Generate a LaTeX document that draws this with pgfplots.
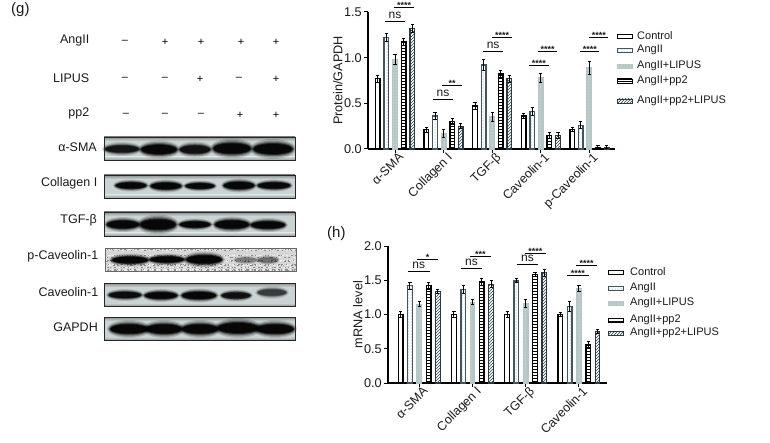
\documentclass[border=0pt]{standalone}
\usepackage{fontspec}
\setmainfont{Liberation Sans}
\usepackage{pgfplots}
\pgfplotsset{compat=1.18}
\usetikzlibrary{patterns}
\definecolor{txt}{HTML}{1A1A1A}
\definecolor{slate}{HTML}{3F5560}
\definecolor{pale}{HTML}{B4C6C6}
\definecolor{blotbg}{HTML}{CBD4D4}
\definecolor{dkpat}{HTML}{2A3A42}
\newcommand{\fs}[1]{\fontsize{#1}{#1}\selectfont}
\newcommand{\py}[1]{\fpeval{442-#1}}
\newcommand{\imod}[2]{\the\numexpr (#1)-(((#1)-((#2)-1)/2)/(#2))*(#2)\relax}
\tikzset{
  s1/.style={draw=black, fill=white, line width=1.3pt},
  s2/.style={draw=slate, line width=1.3pt, pattern=dots, pattern color=slate!80},
  s3/.style={draw=pale, fill=pale, line width=1.3pt, postaction={pattern=dots, pattern color=white}},
  s4/.style={draw=black, line width=1.3pt, pattern=horizontal lines, pattern color=black},
  s5/.style={draw=dkpat, line width=1.3pt, pattern=north east lines, pattern color=dkpat},
}
\pgfplotsset{
  chartstyle/.style={
    scale only axis, axis lines*=left, axis line style={-, line width=1.1pt, black},
    tick style={line width=1pt, black}, tick align=outside, major tick length=4pt,
    ymin=0, xtick=data, x tick label style={rotate=45, anchor=north east, inner sep=1pt, font=\fs{12.5}, text=txt, xshift=4pt},
    y tick label style={font=\fs{12.7}, text=txt, inner sep=2pt},
    label style={font=\fs{12.7}, text=txt},
    /pgf/number format/assume math mode=true,
    /pgf/number format/fixed, /pgf/number format/fixed zerofill, /pgf/number format/precision=1,
    clip=false, ybar, ymajorgrids=false,
    error bars/y dir=both, error bars/y explicit,
    error bars/error mark options={rotate=90, mark size=1.6pt, line width=1pt},
    error bars/error bar style={line width=1pt, black},
  },
}
% image-pixel helpers
\newcommand{\sig}[5]{% x1 x2 y text fontsize
  \draw[line width=1pt, black] (#1pt,\py{#3}pt) -- (#2pt,\py{#3}pt);
  \node[anchor=base, inner sep=0pt, text=txt, font=\fs{#5}] at ({(#1+#2)/2*1pt},\fpeval{442-#3+3}pt) {#4};}
\newcommand{\sigs}[4]{% x1 x2 y stars
  \draw[line width=1pt, black] (#1pt,\py{#3}pt) -- (#2pt,\py{#3}pt);
  \node[anchor=base, inner sep=0pt, text=txt, font=\fs{9}\bfseries] at ({(#1+#2)/2*1pt},\fpeval{442-#3-1}pt) {#4};}
\newcommand{\leg}[5]{% x y style text textx
  \path[#3, line width=0.9pt] (#1pt,\fpeval{442-#2-2}pt) rectangle (\fpeval{#1+15}pt,\fpeval{442-#2+2}pt);
  \node[anchor=west, inner sep=0pt, text=txt, font=\fs{11}] at (#5pt,\py{#2}pt) {#4};}
\newcommand{\rowlab}[3]{\node[anchor=east, inner sep=0pt, text=txt, font=\fs{12.5}] at (#1pt,\py{#2}pt) {#3};}
\newcommand{\sym}[3]{\node[inner sep=0pt, text=black, font=\fs{11}] at (#1pt,\py{#2}pt) {#3};}
\newcommand{\blot}[2]{% ytop ybottom
  \fill[blotbg] (104pt,\py{#1}pt) rectangle (295pt,\py{#2}pt);
  \shade[top color=gray!85!blotbg, bottom color=blotbg] (104pt,\py{#1}pt) rectangle (295pt,\fpeval{442-#1-4}pt);
  \shade[top color=blotbg, bottom color=gray!70!blotbg] (104pt,\fpeval{442-#2+3}pt) rectangle (295pt,\py{#2}pt);
}
\newcommand{\blotframe}[2]{\draw[line width=0.8pt, black!85] (104pt,\py{#1}pt) rectangle (295pt,\py{#2}pt);}
% x y a b strength: soft-edged band built from nested translucent ellipses
\newcommand{\band}[5]{%
  \foreach \fx/\fy/\op in {1/1/.15,.96/.85/.2,.92/.72/.35,.88/.6/.6,.84/.5/.8}{%
    \fill[black, fill opacity=\fpeval{\op*#5}] (#1pt,\py{#2}pt) ellipse ({\fx*#3*1pt} and {\fy*#4*1pt});
  }}
\begin{document}
\begin{tikzpicture}[x=1pt,y=1pt]
\path[use as bounding box] (0pt,0pt) rectangle (770pt,442pt);

% ---------- top chart ----------
\begin{axis}[chartstyle, at={(368pt,293pt)}, anchor=south west, width=247pt, height=137pt,
  xmin=-0.556, xmax=4.527, ymax=1.5, ytick={0,0.5,1,1.5}, bar width=4.6pt,
  xticklabels={α-SMA,Collagen I,TGF-β,Caveolin-1,p-Caveolin-1},
  ylabel={Protein/GAPDH}, ylabel style={yshift=-4pt}]
\addplot+[s1, bar shift=-17.2pt, forget plot] coordinates {(0,0.77)+-(0,0.04) (1,0.21)+-(0,0.03) (2,0.47)+-(0,0.04) (3,0.36)+-(0,0.03) (4,0.21)+-(0,0.02)};
\addplot+[s2, bar shift=-8.6pt, forget plot] coordinates {(0,1.22)+-(0,0.04) (1,0.36)+-(0,0.04) (2,0.92)+-(0,0.06) (3,0.41)+-(0,0.04) (4,0.26)+-(0,0.04)};
\addplot+[s3, bar shift=0pt, forget plot] coordinates {(0,0.98)+-(0,0.05) (1,0.17)+-(0,0.04) (2,0.35)+-(0,0.05) (3,0.78)+-(0,0.05) (4,0.89)+-(0,0.07)};
\addplot+[s4, bar shift=8.6pt, forget plot] coordinates {(0,1.17)+-(0,0.04) (1,0.30)+-(0,0.03) (2,0.82)+-(0,0.04) (3,0.15)+-(0,0.03) (4,0.02)+-(0,0.02)};
\addplot+[s5, bar shift=17.2pt, forget plot] coordinates {(0,1.32)+-(0,0.04) (1,0.25)+-(0,0.03) (2,0.77)+-(0,0.04) (3,0.15)+-(0,0.03) (4,0.02)+-(0,0.02)};
\end{axis}

% ---------- bottom chart ----------
\begin{axis}[chartstyle, at={(388pt,59pt)}, anchor=south west, width=219pt, height=137pt,
  xmin=-0.588, xmax=3.528, ymax=2, ytick={0,0.5,1,1.5,2}, bar width=4.6pt,
  xticklabels={α-SMA,Collagen I,TGF-β,Caveolin-1},
  ylabel={mRNA level}, ylabel style={yshift=-4pt}]
\addplot+[s1, bar shift=-18.6pt, forget plot] coordinates {(0,1.00)+-(0,0.05) (1,1.00)+-(0,0.04) (2,1.00)+-(0,0.04) (3,1.00)+-(0,0.03)};
\addplot+[s2, bar shift=-9.3pt, forget plot] coordinates {(0,1.42)+-(0,0.05) (1,1.37)+-(0,0.06) (2,1.49)+-(0,0.03) (3,1.12)+-(0,0.07)};
\addplot+[s3, bar shift=0pt, forget plot] coordinates {(0,1.15)+-(0,0.04) (1,1.18)+-(0,0.04) (2,1.16)+-(0,0.06) (3,1.38)+-(0,0.04)};
\addplot+[s4, bar shift=9.3pt, forget plot] coordinates {(0,1.42)+-(0,0.05) (1,1.48)+-(0,0.05) (2,1.58)+-(0,0.03) (3,0.56)+-(0,0.04)};
\addplot+[s5, bar shift=18.6pt, forget plot] coordinates {(0,1.34)+-(0,0.03) (1,1.44)+-(0,0.05) (2,1.61)+-(0,0.05) (3,0.75)+-(0,0.03)};
\end{axis}

% significance
\sig{385}{405}{21.7}{ns}{12}
\sigs{394}{414}{7.3}{****}
\sig{433.3}{452.7}{99.7}{ns}{12}
\sigs{442.3}{461.7}{85.3}{**}
\sig{483.3}{503}{51.7}{ns}{12}
\sigs{492.3}{512}{37.3}{****}
\sigs{529}{548.7}{65.7}{****}
\sigs{538}{557.3}{51.7}{****}
\sigs{580.3}{599.3}{51.7}{****}
\sigs{589.3}{608.3}{37.3}{****}
\sig{407.7}{429.7}{271.7}{ns}{12}
\sigs{417}{438}{259.3}{*}
\sig{460.7}{482.3}{268.7}{ns}{12}
\sigs{470}{490.7}{256.7}{***}
\sig{516.7}{538.3}{264}{ns}{12}
\sigs{525}{545.7}{253.3}{****}
\sigs{567}{588.7}{275.7}{****}
\sigs{576.3}{596.7}{265.7}{****}

% legends
\leg{617}{36}{s1}{Control}{637}
\leg{617}{50}{s2}{AngII}{637}
\leg{617}{66}{s3}{AngII+LIPUS}{637}
\leg{617}{81}{s4}{AngII+pp2}{637}
\leg{617}{101}{s5}{AngII+pp2+LIPUS}{637}
\leg{608}{272}{s1}{Control}{630}
\leg{608}{288}{s2}{AngII}{630}
\leg{608}{303}{s3}{AngII+LIPUS}{630}
\leg{608}{320}{s4}{AngII+pp2}{630}
\leg{608}{333}{s5}{AngII+pp2+LIPUS}{630}

% panel letters
\node[anchor=west, inner sep=0pt, text=txt, font=\fs{15}] at (11pt,\py{9.5}pt) {(g)};
\node[anchor=west, inner sep=0pt, text=txt, font=\fs{15}] at (327pt,\py{234}pt) {(h)};

% treatment rows
\rowlab{89.5}{41}{AngII}
\rowlab{89.5}{78.5}{LIPUS}
\rowlab{89.5}{113.5}{pp2}
\foreach \x/\s in {125/–,165/+,201/+,241/+,276/+}{\sym{\x}{42}{\s}}
\foreach \x/\s in {125/–,165/–,200/+,239/–,276/+}{\sym{\x}{79}{\s}}
\foreach \x/\s in {126/–,165/–,201/–,240/+,276/+}{\sym{\x}{115}{\s}}

% blot labels
\rowlab{97}{147}{α-SMA}
\rowlab{97.5}{183}{Collagen I}
\rowlab{97}{220}{TGF-β}
\rowlab{98.5}{256}{p-Caveolin-1}
\rowlab{98.5}{292}{Caveolin-1}
\rowlab{98}{327}{GAPDH}

% blots
\blot{137}{160}
\band{122}{149}{20}{7}{.8}\band{159}{149.5}{21}{9}{1}\band{195}{149.5}{18}{8}{.85}\band{232}{148.5}{22}{10}{1}\band{273}{149}{23}{10}{1}
\blotframe{137}{160}

\blot{175}{198}
\band{131}{185.5}{18}{6}{1}\band{166}{186}{18}{6.5}{1}\band{200}{186}{17}{5.5}{1}\band{239}{185.5}{18}{7}{1}\band{274}{185.5}{19}{6}{1}
\blotframe{175}{198}

\blot{212}{236}
\band{123}{224.5}{19}{7.5}{1}\band{158}{224.5}{21}{10}{1}\band{195}{224.5}{18}{6}{1}\band{232}{224.5}{20}{8}{1}\band{268}{225}{20}{7}{1}
\blotframe{212}{236}

\fill[gray!32] (105pt,\py{248}pt) rectangle (296pt,\py{271}pt);
\foreach \i in {0,...,1500}{
  \edef\xx{\the\numexpr 105+\imod{\i*73}{191}\relax}
  \edef\yy{\the\numexpr 442-248-1-\imod{\i*\i*7+\i*17}{23}\relax}
  \ifodd\numexpr\i*\i/7\relax
    \fill[gray!12] (\xx pt,\yy pt) rectangle +(1pt,1pt);
  \else
    \fill[black!45] (\xx pt,\yy pt) rectangle +(1pt,1pt);
  \fi
}
\band{130}{260}{21}{6.5}{1}\band{167}{259.5}{20}{6}{1}\band{204}{259.5}{21}{8}{1}\band{246}{260}{13}{5}{.25}\band{268}{260}{12}{5.5}{.3}
\draw[line width=0.5pt, black!60] (105pt,\py{248}pt) rectangle (296pt,\py{271}pt);

\blot{283}{306}
\band{125}{295}{19}{6}{.9}\band{161}{295.5}{19}{6.5}{1}\band{199}{295.5}{20}{7}{1}\band{236}{295.5}{17}{6}{.85}\band{272}{292.5}{17}{6.5}{.5}
\blotframe{283}{306}

\blot{317}{340}
\band{129}{329}{22}{9}{1}\band{164}{329}{21}{9}{1}\band{200}{329}{21}{9}{1}\band{238}{328}{24}{10}{1}\band{275}{329}{22}{9}{1}
\blotframe{317}{340}
\end{tikzpicture}
\end{document}
